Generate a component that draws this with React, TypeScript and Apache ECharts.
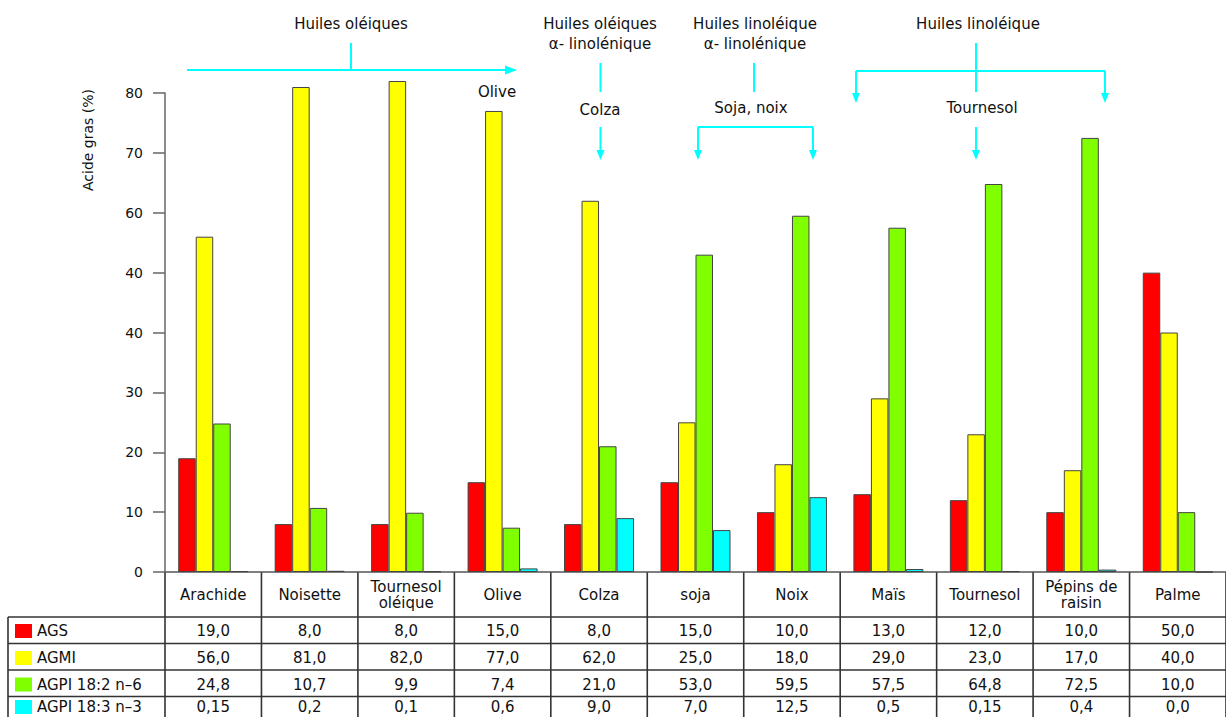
import React, { useEffect, useRef } from "react";
import * as echarts from "echarts";

const categories = [
  "Arachide",
  "Noisette",
  "Tournesol\noléique",
  "Olive",
  "Colza",
  "soja",
  "Noix",
  "Maïs",
  "Tournesol",
  "Pépins de\nraisin",
  "Palme",
];
const seriesNames = ["AGS", "AGMI", "AGPI 18:2 n–6", "AGPI 18:3 n–3"];
const ags = [19, 8, 8, 15, 8, 15, 10, 13, 12, 10, 50];
const agmi = [56, 81, 82, 77, 62, 25, 18, 29, 23, 17, 40];
const agpi6 = [24.8, 10.7, 9.9, 7.4, 21, 53, 59.5, 57.5, 64.8, 72.5, 10];
const agpi3 = [0.15, 0.2, 0.1, 0.6, 9, 7, 12.5, 0.5, 0.15, 0.4, 0];
const yTickLabels = ["0", "10", "20", "30", "40", "40", "60", "70", "80"];
const colors = ["#ff0000", "#ffff00", "#80ff00", "#00ffff"];

const FONT = "DejaVu Sans";
const TXT = "#111";
const CYAN = "#00ffff";

function fmt(v: number): string {
  const t = v * 10;
  const s = Math.abs(t - Math.round(t)) < 1e-9 ? v.toFixed(1) : String(v);
  return s.replace(".", ",");
}

function arrowDown(x: number, y: number) {
  return {
    type: "polygon",
    shape: { points: [[x - 4, y - 10], [x + 4, y - 10], [x, y]] },
    style: { fill: CYAN },
  };
}
function vline(x: number, y1: number, y2: number) {
  return {
    type: "line",
    shape: { x1: x, y1, x2: x, y2 },
    style: { stroke: CYAN, lineWidth: 2 },
  };
}
function hline(x1: number, x2: number, y: number) {
  return {
    type: "line",
    shape: { x1, y1: y, x2, y2: y },
    style: { stroke: CYAN, lineWidth: 2 },
  };
}
function label(x: number, y: number, text: string, size = 15) {
  return {
    type: "text",
    x,
    y,
    style: {
      text,
      fontFamily: FONT,
      fontSize: size,
      fill: TXT,
      align: "center",
      verticalAlign: "middle",
      lineHeight: 20,
    },
  };
}

export default function App() {
  const ref = useRef<HTMLDivElement>(null);
  useEffect(() => {
    if (!ref.current) return;
    const chart = echarts.init(ref.current, undefined, { renderer: "svg" });
    const data = [ags, agmi, agpi6, agpi3];
    chart.setOption({
      animation: false,
      backgroundColor: "#ffffff",
      grid: { left: 165, top: 93, width: 1062.6, height: 479 },
      xAxis: {
        type: "category",
        data: categories,
        axisLine: { lineStyle: { color: "#555", width: 1.5 } },
        axisTick: { show: false },
        axisLabel: {
          interval: 0,
          margin: 23,
          verticalAlign: "middle",
          fontFamily: FONT,
          fontSize: 15,
          lineHeight: 16,
          color: TXT,
        },
      },
      yAxis: {
        type: "value",
        min: 0,
        max: 80,
        interval: 10,
        axisLine: { show: true, lineStyle: { color: "#666", width: 1.5 } },
        axisTick: { show: true, length: 12, lineStyle: { color: "#666", width: 1.5 } },
        splitLine: { show: false },
        axisLabel: {
          margin: 22,
          fontFamily: FONT,
          fontSize: 14,
          color: TXT,
          formatter: (v: number) => yTickLabels[Math.round(v / 10)],
        },
      },
      series: data.map((d, i) => ({
        type: "bar",
        name: seriesNames[i],
        data: d,
        barWidth: 17.5,
        barGap: "0%",
        clip: false,
        itemStyle: { color: colors[i], borderColor: "#444", borderWidth: 1 },
      })),
    });

    const xs = categories.map((_, i) => chart.convertToPixel({ xAxisIndex: 0 }, i) as number);
    const colW = xs[1] - xs[0];
    const left0 = xs[0] - colW / 2;
    const rightEnd = xs[xs.length - 1] + colW / 2;
    const rowLines = [617, 643.5, 670, 696.5];
    const rowText = [631, 658, 684.5, 707];
    const g: any[] = [];
    for (let k = 0; k <= categories.length; k++) {
      const x = left0 + k * colW;
      g.push({ type: "line", shape: { x1: x, y1: 572, x2: x, y2: 720 }, style: { stroke: "#333", lineWidth: 1.6 } });
    }
    g.push({ type: "line", shape: { x1: 8, y1: 617, x2: 8, y2: 720 }, style: { stroke: "#333", lineWidth: 1.6 } });
    rowLines.forEach((y) =>
      g.push({ type: "line", shape: { x1: 8, y1: y, x2: rightEnd, y2: y }, style: { stroke: "#333", lineWidth: 1.6 } })
    );
    seriesNames.forEach((n, r) => {
      const y = rowText[r];
      g.push({ type: "rect", shape: { x: 15, y: y - 7, width: 17, height: 14 }, style: { fill: colors[r] } });
      g.push({
        type: "text",
        x: 37,
        y,
        style: { text: n, fontFamily: FONT, fontSize: 15, fill: TXT, align: "left", verticalAlign: "middle" },
      });
      data[r].forEach((v, i) => g.push(label(xs[i], y, fmt(v))));
    });
    g.push({
      type: "text",
      x: 88,
      y: 140,
      rotation: Math.PI / 2,
      style: { text: "Acide gras (%)", fontFamily: FONT, fontSize: 14, fill: TXT, align: "center", verticalAlign: "middle" },
    });
    g.push(label(351, 24, "Huiles oléiques"));
    g.push(vline(351, 43, 70));
    g.push(hline(187, 508, 70));
    g.push({ type: "polygon", shape: { points: [[505, 65.5], [505, 74.5], [517, 70]] }, style: { fill: CYAN } });
    g.push(label(497, 92, "Olive"));

    g.push(label(600, 34, "Huiles oléiques\nα- linolénique"));
    g.push(vline(600.5, 63, 92));
    g.push(label(600, 110, "Colza"));
    g.push(vline(600.5, 127, 152));
    g.push(arrowDown(600.5, 160));

    g.push(label(755, 34, "Huiles linoléique\nα- linolénique"));
    g.push(vline(754, 63, 92));
    g.push(label(751, 108, "Soja, noix"));
    g.push(hline(698, 813, 127));
    g.push(vline(698, 127, 152));
    g.push(vline(813, 127, 152));
    g.push(arrowDown(698, 160));
    g.push(arrowDown(813, 160));

    g.push(label(978, 24, "Huiles linoléique"));
    g.push(vline(976, 43, 92));
    g.push(hline(856, 1105, 71));
    g.push(vline(856, 71, 95));
    g.push(vline(1105, 71, 95));
    g.push(arrowDown(856, 103));
    g.push(arrowDown(1105, 103));
    g.push(label(982, 108, "Tournesol"));
    g.push(vline(976, 127, 152));
    g.push(arrowDown(976, 160));

    chart.setOption({ graphic: { elements: g } });
    return () => chart.dispose();
  }, []);
  return (
    <div
      ref={ref}
      style={{ position: "fixed", left: 0, top: 0, width: 1226, height: 717, background: "#fff" }}
    />
  );
}
